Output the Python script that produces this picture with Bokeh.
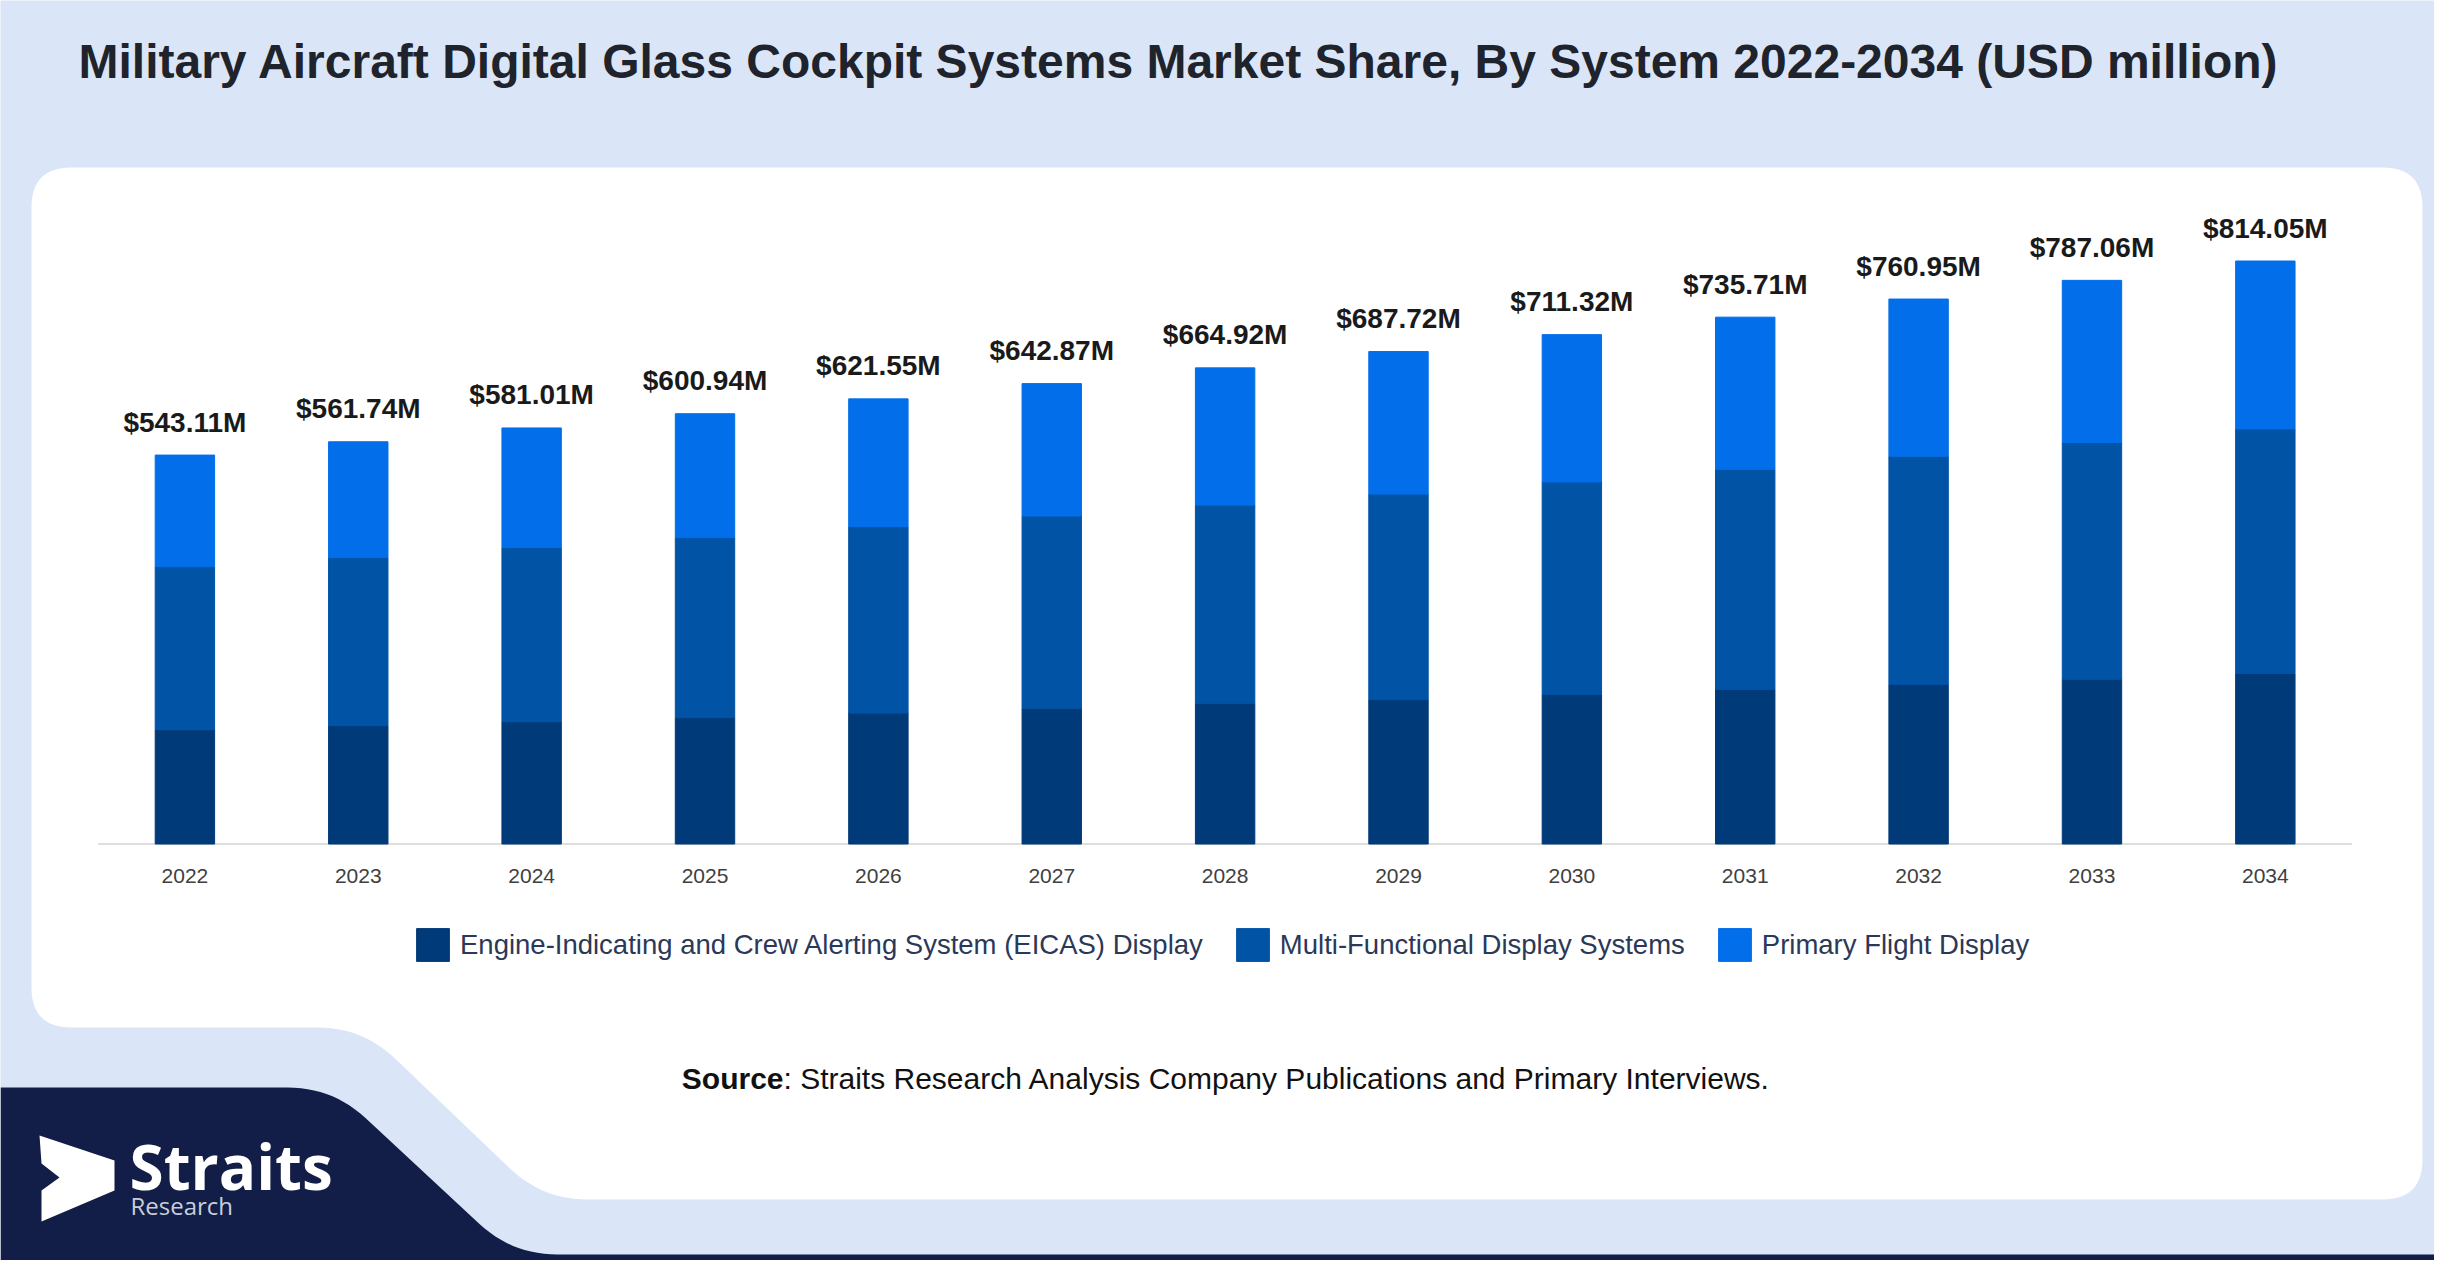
import numpy as np
from bokeh.plotting import figure
from bokeh.models import Range1d, ColumnDataSource, Legend, LegendItem
from bokeh.core.properties import value
from bokeh.embed import file_html
from bokeh.resources import INLINE

# ---------------- data ----------------
years = [2022, 2023, 2024, 2025, 2026, 2027, 2028, 2029, 2030, 2031, 2032, 2033, 2034]
eicas = [159.6, 165.2, 170.8, 176.4, 182.9, 189.7, 196.3, 201.6, 208.9, 216.2, 222.9, 230.1, 238.0]
mfd = [227.6, 235.0, 243.4, 251.4, 260.2, 268.3, 277.0, 287.0, 296.7, 307.1, 318.5, 330.7, 341.6]
pfd = [155.9, 161.5, 166.8, 173.1, 178.5, 184.9, 191.6, 199.1, 205.7, 212.4, 219.6, 226.3, 234.5]
totals = [543.11, 561.74, 581.01, 600.94, 621.55, 642.87, 664.92, 687.72, 711.32, 735.71, 760.95, 787.06, 814.05]
total_labels = ["$543.11M", "$561.74M", "$581.01M", "$600.94M", "$621.55M", "$642.87M", "$664.92M",
                "$687.72M", "$711.32M", "$735.71M", "$760.95M", "$787.06M", "$814.05M"]
year_labels = [str(y) for y in years]
series_names = ["Engine-Indicating and Crew Alerting System (EICAS) Display",
                "Multi-Functional Display Systems",
                "Primary Flight Display"]
series_colors = ["#013a78", "#0153a6", "#036ee9"]
title_text = "Military Aircraft Digital Glass Cockpit Systems Market Share, By System 2022-2034 (USD million)"

# ---------------- layout constants (screen px) ----------------
W, H = 2434, 1260
BG = "#dae6f8"
NAVY = "#121e47"
FONT = "Liberation Sans"

X0_PX, STEP_PX = 184.4, 173.37   # centre of first bar, spacing
BASE_PX, PPM = 843.5, 0.7161      # baseline y, pixels per million
BAR_W = 59.4 / STEP_PX

p = figure(width=W, height=H,
           x_range=Range1d(0, W), y_range=Range1d(H, 0),
           output_backend="svg", toolbar_location=None,
           x_axis_type=None, y_axis_type=None, min_border=0,
           outline_line_color=None, background_fill_color=BG, border_fill_color=BG)

p.extra_x_ranges = {"yr": Range1d(years[0] - X0_PX / STEP_PX,
                                  years[0] + (W - X0_PX) / STEP_PX)}
p.extra_y_ranges = {"val": Range1d(-(H - BASE_PX) / PPM, BASE_PX / PPM)}


def rounded(pts, radii, n=14):
    xs, ys = [], []
    m = len(pts)
    for i in range(m):
        P = np.array(pts[i], float)
        A = np.array(pts[i - 1], float)
        B = np.array(pts[(i + 1) % m], float)
        r = radii[i]
        if r == 0:
            xs.append(P[0]); ys.append(P[1]); continue
        d1 = (A - P) / np.linalg.norm(A - P)
        d2 = (B - P) / np.linalg.norm(B - P)
        p1 = P + d1 * r
        p2 = P + d2 * r
        t = np.linspace(0, 1, n)[:, None]
        c = (1 - t) ** 2 * p1 + 2 * (1 - t) * t * P + t ** 2 * p2
        xs.extend(c[:, 0]); ys.extend(c[:, 1])
    return xs, ys


# white panel
wx, wy = rounded([(31, 167), (2422, 167), (2422, 1199), (542, 1199), (362, 1027), (31, 1027)],
                 [40, 40, 40, 45, 45, 40])
p.patch(wx, wy, fill_color="white", line_color=None)

# navy shape bottom-left + stripe
nx, ny = rounded([(0, 1087), (332, 1087), (512, 1254), (2460, 1254), (2460, 1290), (0, 1290)],
                 [0, 45, 45, 0, 0, 0])
p.patch(nx, ny, fill_color=NAVY, line_color=None)

# logo
p.patch([39, 114, 114, 41, 41, 59, 41], [1135, 1160, 1190, 1221, 1190, 1177, 1163],
        fill_color="white", line_color=None)
p.text(x=[129], y=[1165], text=["Straits"], text_font=value("Open Sans"), text_font_style="bold",
       text_font_size="62px", text_color="white", text_baseline="middle")
p.text(x=[130], y=[1205], text=["Research"], text_font=value("Open Sans"),
       text_font_size="24px", text_color="#c9cedb", text_baseline="middle")

# title
p.text(x=[78], y=[61], text=[title_text], text_font=value(FONT), text_font_style="bold",
       text_font_size="48px", text_color="#1f232b", text_baseline="middle")

# source
p.text(x=[783], y=[1078], text=["Source"], text_font=value(FONT), text_font_style="bold",
       text_font_size="30px", text_color="#111111", text_align="right", text_baseline="middle")
p.text(x=[783], y=[1078], text=[": Straits Research Analysis Company Publications and Primary Interviews."],
       text_font=value(FONT), text_font_size="30px", text_color="#111111",
       text_align="left", text_baseline="middle")

# ---------------- chart ----------------
src = ColumnDataSource(dict(year=years, eicas=eicas, mfd=mfd, pfd=pfd,
                            total=totals, label=total_labels, ylab=year_labels,
                            zero=[0] * len(years)))

p.segment(x0=[years[0] - 0.5], x1=[years[-1] + 0.5], y0=[0], y1=[0],
          line_color="#dedede", line_width=2, x_range_name="yr", y_range_name="val")

rs = p.vbar_stack(["eicas", "mfd", "pfd"], x="year", width=BAR_W, color=series_colors,
                  source=src, x_range_name="yr", y_range_name="val")

p.text(x="year", y="total", text="label", source=src, x_range_name="yr", y_range_name="val",
       text_align="center", text_baseline="middle", y_offset=-33,
       text_font=value(FONT), text_font_style="bold", text_font_size="28px", text_color="#1a1a1a")

p.text(x="year", y="zero", text="ylab", source=src, x_range_name="yr", y_range_name="val",
       text_align="center", text_baseline="middle", y_offset=32,
       text_font=value(FONT), text_font_size="21px", text_color="#404040")

legend = Legend(items=[LegendItem(label=n, renderers=[r]) for n, r in zip(series_names, rs)],
                orientation="horizontal", location=(412, 295),
                glyph_width=41, glyph_height=41, label_standoff=7, spacing=29,
                padding=0, margin=0, border_line_color=None, background_fill_alpha=0,
                label_text_font=FONT, label_text_font_size="27.5px", label_text_color="#2b3858")
p.add_layout(legend)

open("out.html", "w").write(file_html(p, INLINE))
